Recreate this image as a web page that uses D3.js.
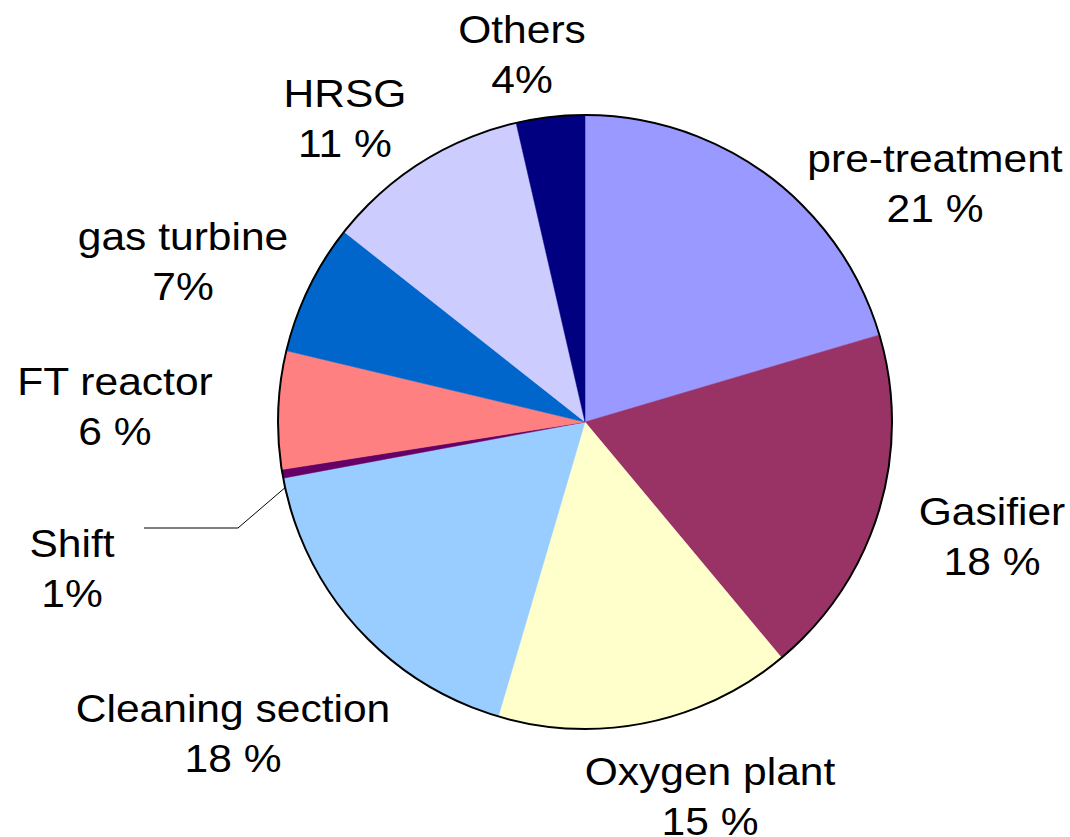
<!DOCTYPE html>
<html><head><meta charset="utf-8">
<script src="https://cdn.jsdelivr.net/npm/d3@7"></script>
<style>body{margin:0;background:#fff}svg{display:block}</style>
</head><body>
<svg id="c" width="1070" height="837"></svg>
<script>
const categories = ["pre-treatment","Gasifier","Oxygen plant","Cleaning section","Shift","FT reactor","gas turbine","HRSG","Others"];
const values = [20.4, 18.5, 15.6, 17.5, 0.45, 6.2, 6.9, 10.75, 3.6];
const pctLabels = ["21 %","18 %","15 %","18 %","1%","6 %","7%","11 %","4%"];
const colors = ["#9999FF","#993366","#FFFFCC","#99CCFF","#660066","#FF8080","#0066CC","#CCCCFF","#000080"];
// label anchor positions (center x, first baseline y)
const labelPos = [[935,172],[992,525],[710,785],[233,722],[72,557],[115,395],[183,250],[345,107],[522,43]];

const svg = d3.select("#c");
const cx = 585, cy = 422, R = 307;
const g = svg.append("g").attr("transform",`translate(${cx},${cy})`);
const pie = d3.pie().sort(null).value(d=>d.v).startAngle(0).endAngle(2*Math.PI);
const data = categories.map((c,i)=>({c, v:values[i], p:pctLabels[i], col:colors[i], lp:labelPos[i]}));
const arcs = pie(data);
const arc = d3.arc().innerRadius(0).outerRadius(R);
g.selectAll("path.s").data(arcs).enter().append("path")
  .attr("class","s").attr("d",arc).attr("fill",d=>d.data.col)
  .attr("stroke",d=>d.data.col).attr("stroke-width",0.5);
g.append("circle").attr("r",R).attr("fill","none").attr("stroke","#000").attr("stroke-width",2);

// leader line for Shift
const shift = arcs[4];
const ang = (shift.startAngle+shift.endAngle)/2 - 0.025;
const ex = cx + (R-2)*Math.sin(ang), ey = cy - (R-2)*Math.cos(ang);
svg.append("polyline")
  .attr("points",`144,528 238,528 ${ex},${ey+6}`)
  .attr("fill","none").attr("stroke","#000").attr("stroke-width",1);

const lab = svg.selectAll("text.l").data(data).enter().append("text")
  .attr("class","l")
  .attr("text-anchor","middle")
  .attr("transform",d=>`translate(${d.lp[0]},${d.lp[1]}) scale(1.12,1)`)
  .attr("font-family","Liberation Sans, Arial, sans-serif")
  .attr("font-size",38).attr("fill","#000");
lab.append("tspan").attr("x",0).attr("y",0).text(d=>d.c);
lab.append("tspan").attr("x",0).attr("y",50).text(d=>d.p);
</script>
</body></html>
